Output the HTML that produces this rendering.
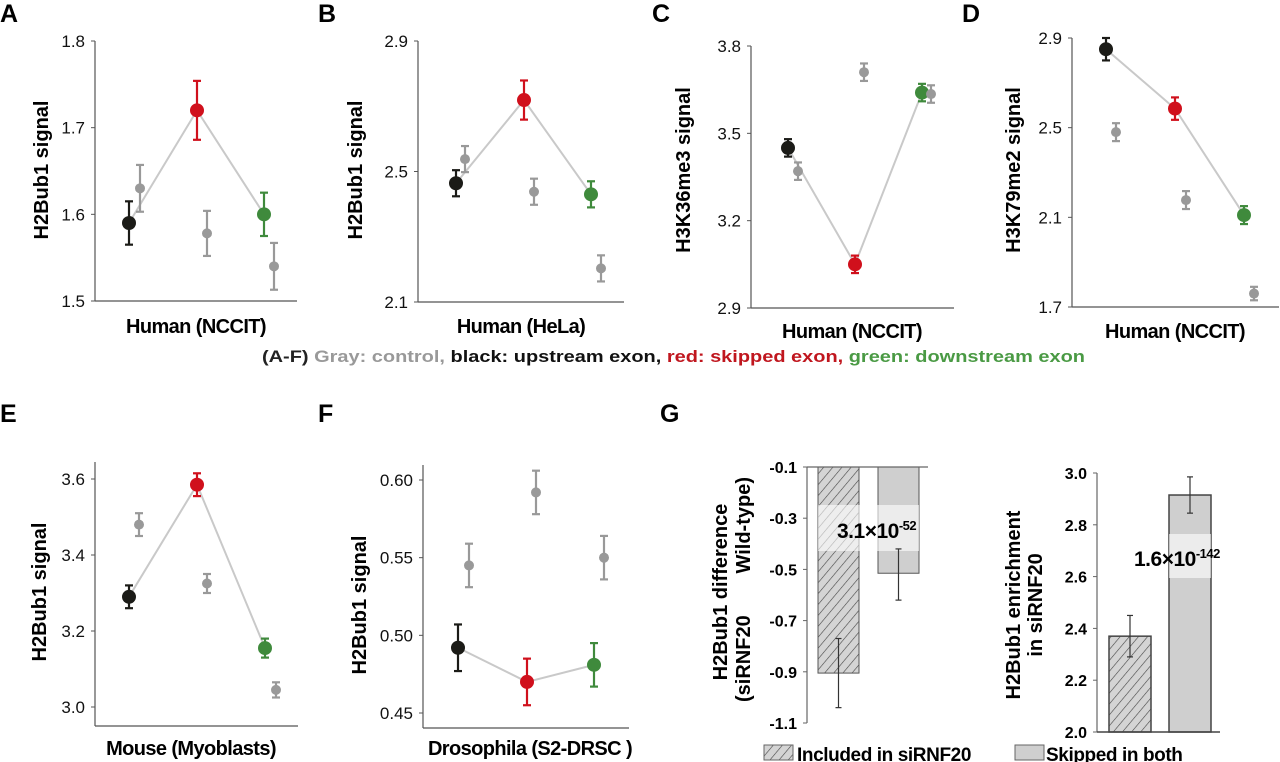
<!DOCTYPE html>
<html><head><meta charset="utf-8"><style>
html,body{margin:0;padding:0;background:#fff}
svg{display:block;font-family:"Liberation Sans",Arial,sans-serif}
</style></head><body>
<svg id="fig" width="1280" height="762" viewBox="0 0 1280 762" xmlns="http://www.w3.org/2000/svg">
<defs>
<pattern id="hatch" patternUnits="userSpaceOnUse" width="7" height="7" patternTransform="rotate(40)">
<rect width="7" height="7" fill="#d4d4d4"/><line x1="0" y1="0" x2="0" y2="7" stroke="#444" stroke-width="1.2"/>
</pattern>
</defs>
<g font-weight="bold" font-size="25" fill="#000">
<text x="0" y="22">A</text>
<text x="318" y="22">B</text>
<text x="652" y="22">C</text>
<text x="962" y="22">D</text>
<text x="0" y="422">E</text>
<text x="318" y="422">F</text>
<text x="660" y="422">G</text>
</g>
<text x="262" y="362" font-size="17" font-weight="bold" textLength="823" lengthAdjust="spacingAndGlyphs"><tspan fill="#222">(A-F) </tspan><tspan fill="#999">Gray: control, </tspan><tspan fill="#111">black: upstream exon, </tspan><tspan fill="#c0161e">red: skipped exon, </tspan><tspan fill="#4a9a44">green: downstream exon</tspan></text>
<g id="plots"></g>
</svg>
<script>
// categories: six markers per panel
const categories = ['upstream','control-upstream','skipped','control-skipped','downstream','control-downstream'];
const panelA_values = [1.59, 1.63, 1.72, 1.578, 1.60, 1.54];
const panelA_errors = [0.025, 0.027, 0.034, 0.026, 0.025, 0.027];
const panelA_ticks = [1.5, 1.6, 1.7, 1.8];
const panelB_values = [2.464, 2.538, 2.719, 2.438, 2.43, 2.203];
const panelB_errors = [0.04, 0.04, 0.06, 0.04, 0.04, 0.04];
const panelB_ticks = [2.1, 2.5, 2.9];
const panelC_values = [3.45, 3.37, 3.05, 3.71, 3.64, 3.635];
const panelC_errors = [0.03, 0.03, 0.03, 0.03, 0.03, 0.03];
const panelC_ticks = [2.9, 3.2, 3.5, 3.8];
const panelD_values = [2.85, 2.48, 2.585, 2.177, 2.11, 1.76];
const panelD_errors = [0.05, 0.04, 0.05, 0.04, 0.04, 0.03];
const panelD_ticks = [1.7, 2.1, 2.5, 2.9];
const panelE_values = [3.29, 3.48, 3.585, 3.325, 3.155, 3.045];
const panelE_errors = [0.03, 0.03, 0.03, 0.025, 0.025, 0.02];
const panelE_ticks = [3.0, 3.2, 3.4, 3.6];
const panelF_values = [0.492, 0.545, 0.47, 0.592, 0.481, 0.55];
const panelF_errors = [0.015, 0.014, 0.015, 0.014, 0.014, 0.014];
const panelF_ticks = [0.45, 0.50, 0.55, 0.60];
const barCategories = ['Included in siRNF20', 'Skipped in both'];
const gLeft_values = [-0.905, -0.515];
const gLeft_errLow = [-1.04, -0.62];
const gLeft_errHigh = [-0.77, -0.42];
const gLeft_ticks = [-0.1, -0.3, -0.5, -0.7, -0.9, -1.1];
const gRight_values = [2.37, 2.915];
const gRight_errors = [0.08, 0.07];
const gRight_ticks = [2.0, 2.2, 2.4, 2.6, 2.8, 3.0];

const NS = 'http://www.w3.org/2000/svg';
const root = document.getElementById('plots');
function mk(tag, attrs, parent, txt){
  const e = document.createElementNS(NS, tag);
  for (const k in attrs) e.setAttribute(k, attrs[k]);
  if (txt !== undefined) e.textContent = txt;
  (parent || root).appendChild(e);
  return e;
}
const colors = ['#1b1b17','#999','#d0101c','#999','#3f8a3c','#999'];

function linePanel(id, vals, errs, ticks, g){
  const grp = mk('g', {});
  
  
  const t0 = ticks[0], t1 = ticks[ticks.length-1];
  const ys = v => g.yB + (v - t0) / (t1 - t0) * (g.yT - g.yB);
  const yaxis = mk('line', {x1:g.ax, y1:g.top, x2:g.ax, y2:g.bot, stroke:'#555', 'stroke-width':1.2}, grp);
  
  
  const xaxis = mk('line', {x1:g.ax, y1:g.bot, x2:g.xr, y2:g.bot, stroke:'#555', 'stroke-width':1.2}, grp);
  
  
  ticks.forEach(t => {
    const y = ys(t);
    mk('line', {x1:g.ax-4, y1:y, x2:g.ax, y2:y, stroke:'#555'}, grp);
    const lb = mk('text', {x:g.ax-10, y:y+6, 'text-anchor':'end', 'font-size':17, fill:'#111'}, grp, t.toFixed(g.dec));
    
    
  });
  const yt = mk('text', {x:0, y:0, transform:`translate(${g.ylx},${g.yly}) rotate(-90)`, 'text-anchor':'middle', 'font-size':20, 'font-weight':'bold'}, grp, g.ytitle);
  
  
  const xt = mk('text', {x:g.xtx, y:g.xty, 'text-anchor':'middle', 'font-size':20, 'font-weight':'bold', 'letter-spacing':'-0.6'}, grp, g.xtitle);
  
  
  const pts = [0,2,4].map(i => `${g.xs[i]},${ys(vals[i])}`).join(' ');
  const pl = mk('polyline', {points:pts, fill:'none', stroke:'#c9c9c9', 'stroke-width':2}, grp);
  
  
  vals.forEach((v, i) => {
    const x = g.xs[i], c = colors[i], e = errs[i];
    const big = i % 2 === 0;
    const hi = ys(v + e), lo = ys(v - e);
    const eg = mk('g', {stroke:c, 'stroke-width':2.2}, grp);
    
    
    mk('line', {x1:x, y1:hi, x2:x, y2:lo}, eg);
    mk('line', {x1:x-4, y1:hi, x2:x+4, y2:hi}, eg);
    mk('line', {x1:x-4, y1:lo, x2:x+4, y2:lo}, eg);
    const p = mk('circle', {cx:x, cy:ys(v), r: big ? 7 : 5, fill:c}, grp);
    
    
  });
}

linePanel('a', panelA_values, panelA_errors, panelA_ticks, {ax:95, top:41, bot:301, xr:297, yT:41, yB:301, dec:1,
  xs:[129,140,197,207,264,274], ylx:48, yly:170, ytitle:'H2Bub1 signal', xtx:196, xty:333, xtitle:'Human (NCCIT)'});
linePanel('b', panelB_values, panelB_errors, panelB_ticks, {ax:418, top:41, bot:302, xr:624, yT:41, yB:302, dec:1,
  xs:[456,465,524,534,591,601], ylx:362, yly:170, ytitle:'H2Bub1 signal', xtx:521, xty:333, xtitle:'Human (HeLa)'});
linePanel('c', panelC_values, panelC_errors, panelC_ticks, {ax:751, top:46, bot:308, xr:954, yT:46, yB:308, dec:1,
  xs:[788,798,855,864,922,931], ylx:690, yly:170, ytitle:'H3K36me3 signal', xtx:852, xty:338, xtitle:'Human (NCCIT)'});
linePanel('d', panelD_values, panelD_errors, panelD_ticks, {ax:1072, top:38, bot:307, xr:1279, yT:38, yB:307, dec:1,
  xs:[1106,1116,1175,1186,1244,1254], ylx:1020, yly:170, ytitle:'H3K79me2 signal', xtx:1175, xty:338, xtitle:'Human (NCCIT)'});
linePanel('e', panelE_values, panelE_errors, panelE_ticks, {ax:95, top:462, bot:726, xr:298, yT:479, yB:707, dec:1,
  xs:[129,139,197,207,265,276], ylx:46, yly:592, ytitle:'H2Bub1 signal', xtx:191, xty:755, xtitle:'Mouse (Myoblasts)'});
linePanel('f', panelF_values, panelF_errors, panelF_ticks, {ax:423, top:465, bot:728, xr:629, yT:480, yB:713, dec:2,
  xs:[458,469,527,536,594,604], ylx:366, yly:605, ytitle:'H2Bub1 signal', xtx:530, xty:755, xtitle:'Drosophila (S2-DRSC )'});

// ---- Panel G left ----
(function(){
  const grp = mk('g', {});
  
  
  const ax = 807, yT = 467, yB = 723;
  const t0 = gLeft_ticks[0], t1 = gLeft_ticks[gLeft_ticks.length-1];
  const ys = v => yT + (v - t0) / (t1 - t0) * (yB - yT);
  const xl = [818, 878], bw = 41;
  gLeft_values.forEach((v, i) => {
    const b = mk('rect', {x:xl[i], y:ys(t0), width:bw, height:ys(v)-ys(t0), fill: i===0 ? 'url(#hatch)' : '#cfcfcf', stroke:'#555', 'stroke-width':1}, grp);
    
    
  });
  mk('rect', {x:818, y:505, width:101, height:46, fill:'#fff', opacity:0.6}, grp);
  gLeft_values.forEach((v, i) => {
    const x = xl[i] + bw/2;
    const eb = mk('g', {stroke:'#333', 'stroke-width':1.2}, grp);
    
    
    mk('line', {x1:x, y1:ys(gLeft_errLow[i]), x2:x, y2:ys(gLeft_errHigh[i])}, eb);
    mk('line', {x1:x-3, y1:ys(gLeft_errLow[i]), x2:x+3, y2:ys(gLeft_errLow[i])}, eb);
    mk('line', {x1:x-3, y1:ys(gLeft_errHigh[i]), x2:x+3, y2:ys(gLeft_errHigh[i])}, eb);
  });
  mk('line', {x1:ax, y1:ys(t0), x2:928, y2:ys(t0), stroke:'#666', 'stroke-width':1.2}, grp);
  const ya = mk('line', {x1:ax, y1:ys(t0), x2:ax, y2:yB, stroke:'#666', 'stroke-width':1.2}, grp);
  
  
  gLeft_ticks.forEach(t => {
    mk('line', {x1:ax-4, y1:ys(t), x2:ax, y2:ys(t), stroke:'#666'}, grp);
    const lb = mk('text', {x:ax-10, y:ys(t)+6, 'text-anchor':'end', 'font-size':16, 'font-weight':'bold'}, grp, t.toFixed(1));
    
    
  });
  const pt = mk('text', {x:837, y:538, 'font-size':21, 'font-weight':'bold', 'letter-spacing':'-0.5'}, grp);
  
  
  pt.innerHTML = '3.1×10<tspan dy="-8" font-size="13">-52</tspan>';
  const yt = mk('text', {transform:'translate(727,592) rotate(-90)', 'text-anchor':'middle', 'font-size':20, 'font-weight':'bold'}, grp, 'H2Bub1 difference');
  
  
  const y2a = mk('text', {transform:'translate(750,702) rotate(-90)', 'text-anchor':'start', 'font-size':20, 'font-weight':'bold'}, grp, '(siRNF20');
  
  
  const y2b = mk('text', {transform:'translate(750,477) rotate(-90)', 'text-anchor':'end', 'font-size':20, 'font-weight':'bold'}, grp, 'Wild-type)');
  
  
})();

// ---- Panel G right ----
(function(){
  const grp = mk('g', {});
  
  
  const ax = 1097, yT = 473, yB = 732;
  const t0 = gRight_ticks[0], t1 = gRight_ticks[gRight_ticks.length-1];
  const ys = v => yB + (v - t0) / (t1 - t0) * (yT - yB);
  const xl = [1109, 1169], bw = 42;
  gRight_values.forEach((v, i) => {
    const b = mk('rect', {x:xl[i], y:ys(v), width:bw, height:yB-ys(v), fill: i===0 ? 'url(#hatch)' : '#cfcfcf', stroke:'#444', 'stroke-width':1.5}, grp);
    
    
  });
  mk('rect', {x:1169, y:534, width:42, height:44, fill:'#fff', opacity:0.6}, grp);
  gRight_values.forEach((v, i) => {
    const x = xl[i] + bw/2, e = gRight_errors[i];
    const eb = mk('g', {stroke:'#333', 'stroke-width':1.2}, grp);
    
    
    mk('line', {x1:x, y1:ys(v+e), x2:x, y2:ys(v-e)}, eb);
    mk('line', {x1:x-3, y1:ys(v+e), x2:x+3, y2:ys(v+e)}, eb);
    mk('line', {x1:x-3, y1:ys(v-e), x2:x+3, y2:ys(v-e)}, eb);
  });
  const ya = mk('line', {x1:ax, y1:yT, x2:ax, y2:yB, stroke:'#666', 'stroke-width':1.2}, grp);
  
  
  mk('line', {x1:ax, y1:yB, x2:1220, y2:yB, stroke:'#444', 'stroke-width':1.5}, grp);
  gRight_ticks.forEach(t => {
    mk('line', {x1:ax-4, y1:ys(t), x2:ax, y2:ys(t), stroke:'#666'}, grp);
    const lb = mk('text', {x:ax-10, y:ys(t)+6, 'text-anchor':'end', 'font-size':16, 'font-weight':'bold'}, grp, t.toFixed(1));
    
    
  });
  const pt = mk('text', {x:1134, y:566, 'font-size':21, 'font-weight':'bold', 'letter-spacing':'-0.5'}, grp);
  
  
  pt.innerHTML = '1.6×10<tspan dy="-8" font-size="13">-142</tspan>';
  const yt = mk('text', {transform:'translate(1020,605) rotate(-90)', 'text-anchor':'middle', 'font-size':20, 'font-weight':'bold'}, grp, 'H2Bub1 enrichment');
  
  
  mk('text', {transform:'translate(1042,605) rotate(-90)', 'text-anchor':'middle', 'font-size':20, 'font-weight':'bold'}, grp, 'in siRNF20');
})();

// ---- Legend ----
(function(){
  const lg = mk('g', {});
  
  
  const e1 = mk('g', {}, lg);
  
  
  mk('rect', {x:764, y:745, width:29, height:15, fill:'url(#hatch)', stroke:'#666'}, e1);
  mk('text', {x:797, y:761, 'font-size':19, 'font-weight':'bold', 'letter-spacing':'-0.4'}, e1, barCategories[0]);
  const e2 = mk('g', {}, lg);
  
  
  mk('rect', {x:1015, y:745, width:29, height:15, fill:'#cfcfcf', stroke:'#666'}, e2);
  mk('text', {x:1046, y:761, 'font-size':19, 'font-weight':'bold', 'letter-spacing':'-0.4'}, e2, barCategories[1]);
})();
</script>
</body></html>
